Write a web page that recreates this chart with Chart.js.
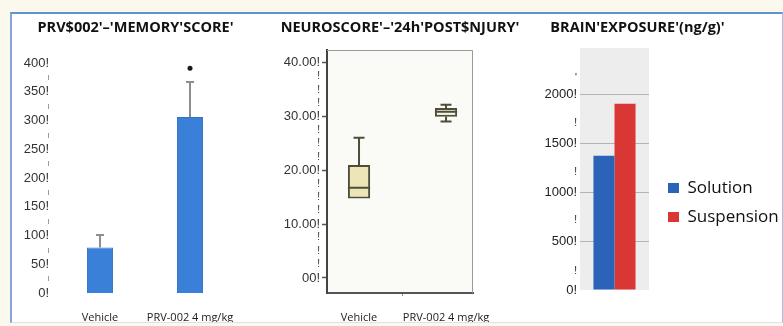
<!DOCTYPE html>
<html><head><meta charset="utf-8">
<script src="https://cdn.jsdelivr.net/npm/chart.js@4.4.1/dist/chart.umd.min.js"></script>
<style>
html,body{margin:0;padding:0;background:#fbf8ee;width:783px;height:326px;overflow:hidden;}
#frame{position:absolute;left:10px;top:12px;width:773px;height:311px;background:#fff;border-top:2px solid #5f93d0;border-left:2px solid #86a6cf;border-right:1px solid #a9c1de;border-bottom:1px solid #dde2e8;box-sizing:border-box;}
canvas{position:absolute;}
</style></head><body>
<div id="frame"></div>
<canvas id="c1" width="243" height="308" style="left:14px;top:14px"></canvas>
<canvas id="c2" width="268" height="308" style="left:266px;top:14px"></canvas>
<canvas id="c3" width="291" height="308" style="left:492px;top:14px"></canvas>
<script>
// ---------- Panel 1: memory score ----------
const memoryCategories = ['Vehicle', 'PRV-002 4 mg/kg'];
const memoryMeans = [79, 306];
const memoryErrors = [22, 61];
const memorySignificance = [null, 391];
const memoryTickValues = [0,25,50,75,100,125,150,175,200,225,250,275,300,325,350,375,400];
const memoryTickLabels = ['0!','|','50!','|','100!','|','150!','|','200!','|','250!','|','300!','|','350!','|','400!'];

// ---------- Panel 2: neuroscore box plot ----------
const neuroCategories = ['Vehicle', 'PRV-002 4 mg/kg'];
const neuroMin = [14.8, 29.1];
const neuroQ1 = [14.8, 30.0];
const neuroMedian = [16.8, 30.9];
const neuroQ3 = [21.0, 31.6];
const neuroMax = [26.1, 32.2];
const neuroTickValues = [0,2.5,5,7.5,10,12.5,15,17.5,20,22.5,25,27.5,30,32.5,35,37.5,40];
const neuroTickLabels = ['00!','!','!','!','10.00!','!','!','!','20.00!','!','!','!','30.00!','!','!','!','40.00!'];

// ---------- Panel 3: brain exposure ----------
const exposureCategories = [''];
const solutionValues = [1370];
const suspensionValues = [1900];
const exposureTickValues = [0,190,500,710,1000,1200,1500,1700,2000,2160];
const exposureTickLabels = ['0!','!','500!','!','1000!','!','1500!','!','2000!',"'"];

Chart.defaults.devicePixelRatio = 1;
Chart.defaults.animation = false;
Chart.defaults.font.family = 'Liberation Sans, Arial, sans-serif';

const titleFont = {family:'Open Sans', weight:'bold', size:14.5};
const catFont = {family:'Open Sans', size:11};
const spacer = w => ({position:'right', display:true, grid:{display:false, drawTicks:false}, border:{display:false},
  ticks:{display:false}, afterFit(s){ s.width = w; }});

const errorBarPlugin = {
  id:'errorBars',
  afterDatasetsDraw(chart){
    const meta = chart.getDatasetMeta(1), y = chart.scales.y, ctx = chart.ctx;
    ctx.save(); ctx.strokeStyle = '#8e8e8e'; ctx.lineWidth = 2;
    meta.data.forEach((bar, i) => {
      const top = y.getPixelForValue(memoryMeans[i] + memoryErrors[i]);
      ctx.beginPath();
      ctx.moveTo(bar.x, bar.y); ctx.lineTo(bar.x, top);
      ctx.moveTo(bar.x - 4, top); ctx.lineTo(bar.x + 4, top);
      ctx.stroke();
    });
    ctx.restore();
  }
};

new Chart(document.getElementById('c1'), {
  data: {
    labels: memoryCategories,
    datasets: [
      {type:'line', data: memorySignificance, showLine:false, pointRadius:2.5, pointBackgroundColor:'#1a1a1a', pointBorderWidth:0},
      {type:'bar', data: memoryMeans, backgroundColor:'#3a7fd8', borderColor:'#3170c6', borderWidth:1, categoryPercentage:1, barPercentage:0.29}
    ]
  },
  options: {
    responsive:false,
    plugins:{
      legend:{display:false}, tooltip:{enabled:false},
      title:{display:true, text:"PRV$002'–'MEMORY'SCORE'", color:'#111', font:titleFont, padding:{top:5.3, bottom:26.3}}
    },
    scales:{
      x:{grid:{display:false, drawTicks:false}, border:{display:false},
         ticks:{color:'#222', font:catFont, padding:18, maxRotation:0, minRotation:0, autoSkip:false},
         afterFit(s){ s.height = 29; }},
      y:{min:0, max:400, grid:{display:false, drawTicks:false}, border:{display:false},
         afterBuildTicks(s){ s.ticks = memoryTickValues.map(v => ({value:v})); },
         ticks:{color:'#333', padding:6, autoSkip:false,
           font: c => ({size: (c.tick && c.tick.value % 50 === 0) ? 13 : 6}),
           callback: v => memoryTickLabels[memoryTickValues.indexOf(v)]},
         afterFit(s){ s.width = 41; }},
      yr: spacer(22)
    }
  },
  plugins:[errorBarPlugin]
});

// ---------- Panel 2 ----------
const boxPlugin = {
  id:'boxWhiskers',
  beforeDraw(chart){
    const {ctx, chartArea:a} = chart;
    ctx.save(); ctx.fillStyle = '#fafaf6'; ctx.fillRect(a.left, a.top, a.right - a.left, a.bottom - a.top); ctx.restore();
  },
  afterDatasetsDraw(chart){
    const meta = chart.getDatasetMeta(0), y = chart.scales.y, ctx = chart.ctx;
    ctx.save(); ctx.strokeStyle = '#4d4d38'; ctx.lineWidth = 2;
    meta.data.forEach((bar, i) => {
      const x = bar.x, hw = bar.width / 2, cap = 5.5;
      const pMax = y.getPixelForValue(neuroMax[i]), pQ3 = y.getPixelForValue(neuroQ3[i]);
      const pMin = y.getPixelForValue(neuroMin[i]), pQ1 = y.getPixelForValue(neuroQ1[i]);
      const pMed = y.getPixelForValue(neuroMedian[i]);
      ctx.beginPath();
      ctx.moveTo(x, pQ3); ctx.lineTo(x, pMax); ctx.moveTo(x - cap, pMax); ctx.lineTo(x + cap, pMax);
      if (neuroMin[i] < neuroQ1[i]) { ctx.moveTo(x, pQ1); ctx.lineTo(x, pMin); ctx.moveTo(x - cap, pMin); ctx.lineTo(x + cap, pMin); }
      ctx.moveTo(x - hw, pMed); ctx.lineTo(x + hw, pMed);
      ctx.stroke();
    });
    ctx.restore();
  },
  afterDraw(chart){
    const {ctx, chartArea:a} = chart;
    ctx.save(); ctx.strokeStyle = '#9a9a9a'; ctx.lineWidth = 1;
    ctx.beginPath(); ctx.moveTo(a.left, a.top + 0.5); ctx.lineTo(a.right - 0.5, a.top + 0.5); ctx.lineTo(a.right - 0.5, a.bottom); ctx.stroke();
    ctx.restore();
  }
};

new Chart(document.getElementById('c2'), {
  type:'bar',
  data:{
    datasets:[{
      data: neuroCategories.map((c, i) => ({x:i, y:[neuroQ1[i], neuroQ3[i]]})),
      backgroundColor:['#ede5b8', '#f4f2e4'], borderColor:'#4d4d38', borderWidth:2, borderSkipped:false,
      categoryPercentage:1, barPercentage:0.255
    }]
  },
  options:{
    responsive:false,
    plugins:{
      legend:{display:false}, tooltip:{enabled:false},
      title:{display:true, text:"NEUROSCORE'–'24h'POST$NJURY'", color:'#111', font:titleFont, padding:{top:5.3, bottom:13.3}}
    },
    scales:{
      x:{type:'linear', min:-0.368, max:1.31, offset:false,
         afterBuildTicks(s){ s.ticks = neuroCategories.map((c, i) => ({value:i})); },
         grid:{display:true, drawOnChartArea:false, tickLength:3, tickColor:'#888'},
         border:{display:true, color:'#555', width:2},
         ticks:{color:'#222', font:catFont, padding:15, maxRotation:0, minRotation:0, autoSkip:false,
                callback: v => neuroCategories[v]},
         afterFit(s){ s.height = 29; }},
      y:{min:-2.8, max:42.4,
         afterBuildTicks(s){ s.ticks = neuroTickValues.map(v => ({value:v})); },
         grid:{display:true, drawOnChartArea:false, tickLength:5, tickWidth:1.5,
               tickColor: c => (c.tick && c.tick.value % 10 === 0) ? '#555' : 'rgba(0,0,0,0)'},
         border:{display:true, color:'#444', width:2},
         ticks:{color:'#333', padding:2, autoSkip:false,
           font: c => ({size: (c.tick && c.tick.value % 10 === 0) ? 13 : 10}),
           callback: v => neuroTickLabels[neuroTickValues.indexOf(v)]},
         afterFit(s){ s.width = 61; }},
      yr: spacer(61)
    }
  },
  plugins:[boxPlugin]
});

// ---------- Panel 3 ----------
const bgPlugin = {
  id:'plotBg',
  beforeDraw(chart){
    const {ctx, chartArea:a} = chart;
    ctx.save(); ctx.fillStyle = '#ededed'; ctx.fillRect(a.left, a.top, a.right - a.left, a.bottom - a.top); ctx.restore();
  }
};

new Chart(document.getElementById('c3'), {
  type:'bar',
  data:{
    labels: exposureCategories,
    datasets:[
      {label:'Solution', data: solutionValues, backgroundColor:'#2b63b9', borderWidth:0, categoryPercentage:0.61, barPercentage:1},
      {label:'Suspension', data: suspensionValues, backgroundColor:'#d93636', borderWidth:0, categoryPercentage:0.61, barPercentage:1}
    ]
  },
  options:{
    responsive:false,
    layout:{padding:{bottom:32}},
    plugins:{
      tooltip:{enabled:false},
      title:{display:true, text:"BRAIN'EXPOSURE'(ng/g)'", color:'#111', font:titleFont, padding:{top:5.3, bottom:11.3}},
      legend:{position:'right', fullSize:false, align:'center', maxWidth:127,
        title:{display:true, text:'', padding:{top:55, bottom:0}, font:{size:10}},
        labels:{boxWidth:11, boxHeight:10, padding:12, color:'#111', font:{family:'Open Sans', size:17}}}
    },
    scales:{
      x:{display:false},
      y:{min:0, max:2470,
         afterBuildTicks(s){ s.ticks = exposureTickValues.map(v => ({value:v})); },
         grid:{drawTicks:false, color: c => (c.tick && c.tick.value % 500 === 0 && c.tick.value > 0) ? '#b4b4b4' : 'rgba(0,0,0,0)'},
         border:{display:false},
         ticks:{color:'#222', padding:3, autoSkip:false,
           font: c => ({size: (c.tick && c.tick.value % 500 === 0) ? 13 : 10}),
           callback: v => exposureTickLabels[exposureTickValues.indexOf(v)]},
         afterFit(s){ s.width = 88; }},
      y2: spacer(7)
    }
  },
  plugins:[bgPlugin]
});
</script>
</body></html>
